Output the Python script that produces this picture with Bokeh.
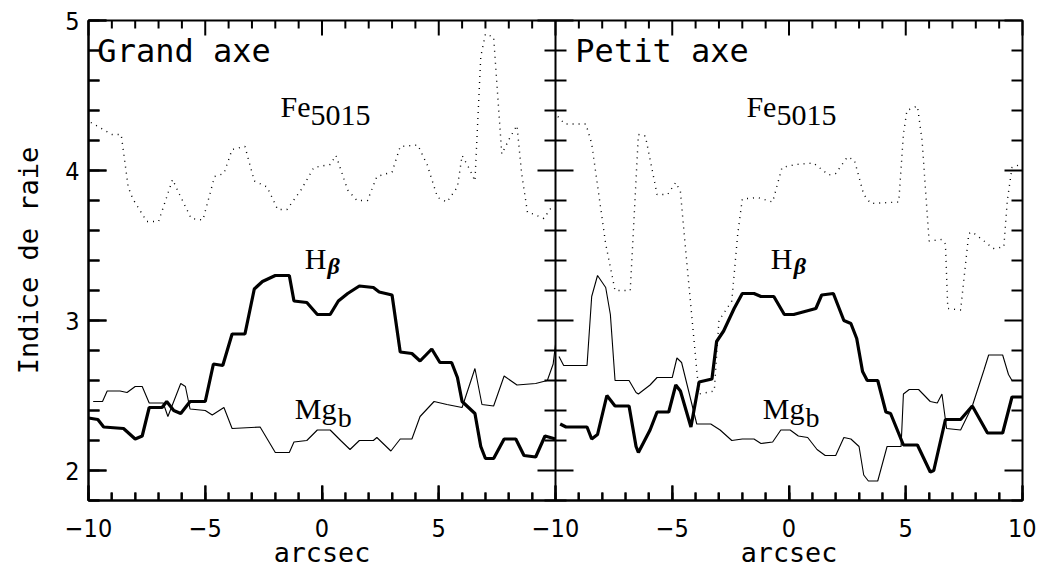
import numpy as np
from bokeh.plotting import figure
from bokeh.models import FixedTicker, Label, Range1d, Span
from bokeh.embed import file_html
from bokeh.resources import INLINE

# ---------------- data ----------------
ga_fe_x = [-9.9, -9.0, -8.6, -8.3, -8.1, -7.5, -7.0, -6.4, -6.1, -5.6, -5.1, -4.6, -4.2, -3.85, -3.3, -2.9,
           -2.35, -1.9, -1.5, -0.9, -0.35, 0.35, 0.6, 1.1, 1.5, 1.95, 2.35, 3.0, 3.35, 4.1, 4.5, 4.95, 5.35,
           5.8, 6.0, 6.35, 6.55, 6.8, 7.0, 7.35, 7.7, 8.05, 8.35, 8.55, 8.8, 9.05, 9.5, 9.85]
ga_fe_y = [4.32, 4.24, 4.24, 3.89, 3.81, 3.66, 3.66, 3.94, 3.84, 3.68, 3.67, 3.96, 3.98, 4.14, 4.16, 3.93,
           3.89, 3.74, 3.74, 3.87, 4.02, 4.04, 4.10, 3.87, 3.80, 3.80, 3.96, 3.99, 4.16, 4.17, 4.04, 3.82, 3.79,
           3.89, 4.10, 4.00, 3.93, 4.76, 4.91, 4.89, 4.11, 4.22, 4.30, 3.98, 3.72, 3.71, 3.68, 3.76]
ga_hb_x = [-10.0, -9.6, -9.35, -8.5, -8.0, -7.7, -7.4, -6.85, -6.65, -6.35, -6.05, -5.65, -5.0, -4.65, -4.25,
           -3.85, -3.3, -2.9, -2.55, -2.0, -1.4, -1.2, -0.65, -0.2, 0.35, 0.7, 1.1, 1.6, 2.2, 2.45, 3.0, 3.35,
           3.85, 4.2, 4.7, 5.05, 5.55, 5.8, 6.0, 6.55, 6.8, 7.0, 7.35, 7.8, 8.3, 8.65, 9.15, 9.55, 10.0]
ga_hb_y = [2.35, 2.34, 2.29, 2.28, 2.21, 2.23, 2.42, 2.42, 2.46, 2.40, 2.38, 2.46, 2.46, 2.71, 2.70,
           2.91, 2.91, 3.21, 3.26, 3.30, 3.30, 3.13, 3.12, 3.04, 3.04, 3.13, 3.18, 3.23, 3.22, 3.19, 3.17, 2.79,
           2.78, 2.73, 2.81, 2.72, 2.72, 2.62, 2.46, 2.38, 2.16, 2.08, 2.08, 2.21, 2.21, 2.10, 2.09, 2.23, 2.21]
ga_mg_x = [-9.8, -9.4, -9.2, -8.65, -8.35, -8.0, -7.7, -7.4, -6.8, -6.6, -6.4, -6.05, -5.85, -5.65, -5.0,
           -4.7, -4.2, -3.85, -2.65, -2.0, -1.4, -1.2, -0.65, -0.2, 0.35, 0.8, 1.2, 1.6, 2.2, 2.35, 2.95, 3.35,
           3.85, 4.2, 4.8, 5.35, 6.0, 6.55, 6.85, 7.35, 7.8, 8.35, 9.15, 9.65, 9.9, 10.0]
ga_mg_y = [2.46, 2.46, 2.53, 2.53, 2.52, 2.56, 2.56, 2.45, 2.45, 2.36, 2.44, 2.58, 2.56, 2.41, 2.40,
           2.37, 2.42, 2.28, 2.29, 2.12, 2.12, 2.19, 2.20, 2.27, 2.27, 2.20, 2.14, 2.20, 2.20, 2.22, 2.13, 2.21,
           2.21, 2.36, 2.46, 2.44, 2.42, 2.68, 2.44, 2.43, 2.63, 2.57, 2.58, 2.60, 2.71, 2.84]

pa_fe_x = [-9.9, -9.6, -8.7, -8.45, -7.85, -7.45, -6.8, -6.7, -6.45, -6.15, -5.65, -5.2, -4.85, -4.65, -4.45,
           -3.95, -3.85, -3.2, -3.0, -2.45, -2.2, -2.0, -1.35, -0.7, -0.3, 0.3, 1.05, 1.7, 2.0, 2.5, 2.8, 3.2,
           3.5, 4.7, 4.9, 5.05, 5.5, 5.7, 6.0, 6.55, 6.7, 6.8, 7.35, 7.7, 7.85, 8.35, 8.75, 9.2, 9.35, 9.55, 9.9]
pa_fe_y = [4.36, 4.31, 4.31, 4.18, 3.51, 3.20, 3.20, 3.49, 4.24, 4.23, 3.84, 3.84, 3.92, 3.86, 3.51,
           2.67, 2.51, 2.53, 3.00, 3.13, 3.57, 3.81, 3.82, 3.79, 4.02, 4.04, 4.05, 3.97, 3.98, 4.09, 4.07, 3.84,
           3.78, 3.79, 4.24, 4.40, 4.43, 4.20, 3.53, 3.54, 3.51, 3.08, 3.07, 3.58, 3.59, 3.53, 3.48, 3.49, 3.80,
           4.02, 4.04]
pa_hb_x = [-9.8, -9.55, -8.65, -8.45, -8.2, -7.8, -7.45, -6.85, -6.55, -6.45, -5.95, -5.65, -5.15, -4.85,
           -4.65, -4.2, -3.85, -3.3, -3.1, -2.8, -2.35, -2.0, -1.5, -1.2, -0.65, -0.2, 0.2, 1.15, 1.4, 1.9,
           2.35, 2.65, 2.9, 3.15, 3.35, 3.8, 4.15, 4.35, 4.9, 5.5, 6.05, 6.2, 6.7, 7.35, 7.85, 8.5, 9.15, 9.55,
           10.0]
pa_hb_y = [2.31, 2.29, 2.29, 2.21, 2.24, 2.50, 2.43, 2.43, 2.16, 2.12, 2.27, 2.39, 2.39, 2.57,
           2.53, 2.29, 2.59, 2.61, 2.86, 2.93, 3.08, 3.18, 3.18, 3.16, 3.16, 3.04, 3.04, 3.08, 3.17, 3.18,
           3.00, 2.98, 2.88, 2.66, 2.60, 2.60, 2.39, 2.38, 2.17, 2.17, 1.99, 2.00, 2.34, 2.34, 2.43, 2.25, 2.25,
           2.49, 2.49]
pa_mg_x = [-9.85, -9.65, -8.65, -8.45, -8.2, -7.85, -7.65, -7.45, -6.85, -6.55, -6.45, -5.95, -5.65, -5.0,
           -4.8, -4.6, -3.95, -3.35, -2.95, -2.45, -2.0, -1.5, -1.2, -0.7, -0.35, 0.05, 0.4, 0.8, 1.2, 1.55,
           2.0, 2.35, 2.65, 3.0, 3.2, 3.4, 3.8, 4.2, 4.8, 4.9, 5.15, 5.55, 6.05, 6.35, 6.55, 6.75, 7.35, 7.85,
           8.35, 8.55, 9.15, 9.4, 9.55, 10.0]
pa_mg_y = [2.76, 2.70, 2.70, 3.16, 3.30, 3.22, 3.04, 2.60, 2.60, 2.52, 2.51, 2.57, 2.62, 2.62,
           2.75, 2.72, 2.31, 2.31, 2.27, 2.20, 2.21, 2.21, 2.18, 2.19, 2.27, 2.27, 2.23, 2.22, 2.14, 2.10,
           2.10, 2.22, 2.21, 2.16, 1.97, 1.93, 1.93, 2.16, 2.16, 2.51, 2.54, 2.54, 2.46, 2.45, 2.51, 2.28, 2.27,
           2.43, 2.67, 2.77, 2.77, 2.64, 2.60, 2.60]

panel_titles = ["Grand axe", "Petit axe"]
x_tick_labels = ["\u221210", "\u22125", "0", "5", "\u221210", "\u22125", "0", "5", "10"]
y_tick_values = [2, 3, 4, 5]
x_label = "arcsec"
y_label = "Indice de raie"

# ---------------- layout constants ----------------
SHIFT = 20.0
XMIN, XMAX = -10.0, 30.0
YMIN, YMAX = 1.8, 5.0
FRAME_W, FRAME_H = 934, 480
PX_X = (XMAX - XMIN) / FRAME_W
PX_Y = (YMAX - YMIN) / FRAME_H
TICK_FONT = "'DejaVu Sans Condensed', 'Liberation Sans Narrow', 'Liberation Sans', sans-serif"
MONO_FONT = "DejaVu Sans Mono"
SERIF_FONT = "Liberation Serif"

p = figure(frame_width=FRAME_W, frame_height=FRAME_H,
           x_range=Range1d(XMIN, XMAX), y_range=Range1d(YMIN, YMAX),
           output_backend="svg", toolbar_location=None,
           min_border_left=88, min_border_top=20, min_border_right=14, min_border_bottom=66,
           background_fill_color="white", border_fill_color="white")
p.xgrid.visible = False
p.ygrid.visible = False
p.outline_line_color = "black"
p.outline_line_width = 2

x_major = [-10, -5, 0, 5, 10, 15, 20, 25, 30]
x_minor = list(range(-10, 31))
y_minor = [float(round(v, 1)) for v in np.arange(1.8, 5.01, 0.2)]

xa = p.xaxis[0]
xa.ticker = FixedTicker(ticks=x_major, minor_ticks=x_minor)
xa.major_label_overrides = {t: s for t, s in zip(x_major, x_tick_labels)}
xa.major_tick_in = 15
xa.major_tick_out = 0
xa.minor_tick_in = 8
xa.minor_tick_out = 0
xa.major_tick_line_width = 2
xa.minor_tick_line_width = 2
xa.axis_line_width = 2
xa.major_label_text_font = TICK_FONT
xa.major_label_text_font_size = "25px"
xa.major_label_text_color = "black"
xa.major_label_standoff = 18
xa.axis_label = x_label + "\u00a0" * 23 + x_label
xa.axis_label_text_font = MONO_FONT
xa.axis_label_text_font_size = "26.75px"
xa.axis_label_text_font_style = "normal"
xa.axis_label_text_color = "black"
xa.axis_label_standoff = -3

ya = p.yaxis[0]
ya.ticker = FixedTicker(ticks=y_tick_values, minor_ticks=y_minor)
ya.major_tick_in = 18
ya.major_tick_out = 0
ya.minor_tick_in = 11
ya.minor_tick_out = 0
ya.major_tick_line_width = 2
ya.minor_tick_line_width = 2
ya.axis_line_width = 2
ya.major_label_text_font = TICK_FONT
ya.major_label_text_font_size = "25px"
ya.major_label_text_color = "black"
ya.major_label_standoff = 9
ya.axis_label = y_label
ya.axis_label_text_font = MONO_FONT
ya.axis_label_text_font_size = "27px"
ya.axis_label_text_font_style = "normal"
ya.axis_label_text_color = "black"
ya.axis_label_standoff = 18

# ---------------- curves ----------------
panels = [
    (0.0, ga_fe_x, ga_fe_y, ga_hb_x, ga_hb_y, ga_mg_x, ga_mg_y),
    (SHIFT, pa_fe_x, pa_fe_y, pa_hb_x, pa_hb_y, pa_mg_x, pa_mg_y),
]
for off, fx, fy, hx, hy, mx, my in panels:
    p.line(list(np.asarray(fx) + off), fy, line_color="black", line_width=1.4, line_dash="1 5")
    p.line(list(np.asarray(mx) + off), my, line_color="black", line_width=1.1)
    p.line(list(np.asarray(hx) + off), hy, line_color="black", line_width=3.2)

# ---------------- tick marks: one small polyline per tick, built from the tick values ----------------
def tick(xs, ys):
    p.line([float(v) for v in xs], [float(v) for v in ys], line_color="black", line_width=2,
           level="overlay")


mid = XMAX - SHIFT
for v in x_minor:
    L = (15 if v in x_major else 8) * PX_Y
    tick([v, v], [YMIN, YMIN + L])
    tick([v, v], [YMAX, YMAX - L])
for v in y_minor:
    L = (18 if v in y_tick_values else 11) * PX_X
    tick([XMIN, XMIN + L], [v, v])
    tick([XMAX - L, XMAX], [v, v])
    tick([mid - L, mid + L], [v, v])

p.add_layout(Span(location=mid, dimension="height", line_color="black", line_width=2))


# ---------------- annotations ----------------
LIFT = 0.08


def lab(x, y, text, font, size, align="left", baseline="alphabetic", style="normal"):
    p.add_layout(Label(x=x, y=y + LIFT, text=text, text_font=font, text_font_size=size,
                       text_align=align, text_baseline=baseline, text_font_style=style,
                       text_color="black"))


title_x = [-9.62, -9.15 + SHIFT]
for tx, t in zip(title_x, panel_titles):
    lab(tx, 4.72, t, MONO_FONT, "32px")

fe_pos = [(-0.49, 4.347), (-0.54 + SHIFT, 4.347)]
hb_pos = [(0.19, 3.333), (0.15 + SHIFT, 3.333)]
mg_pos = [(0.62, 2.333), (0.66 + SHIFT, 2.333)]
for (x, y) in fe_pos:
    lab(x, y, "Fe", SERIF_FONT, "30px", align="right")
    lab(x, y - 0.06, "5015", SERIF_FONT, "30px")
for (x, y) in hb_pos:
    lab(x, y, "H", SERIF_FONT, "30px", align="right")
    lab(x + 0.05, y - 0.05, "\u03b2", SERIF_FONT, "24px", style="bold italic")
for (x, y) in mg_pos:
    lab(x, y, "Mg", SERIF_FONT, "30px", align="right")
    lab(x + 0.05, y - 0.06, "b", SERIF_FONT, "28px")

open("out.html", "w").write(file_html(p, INLINE))
